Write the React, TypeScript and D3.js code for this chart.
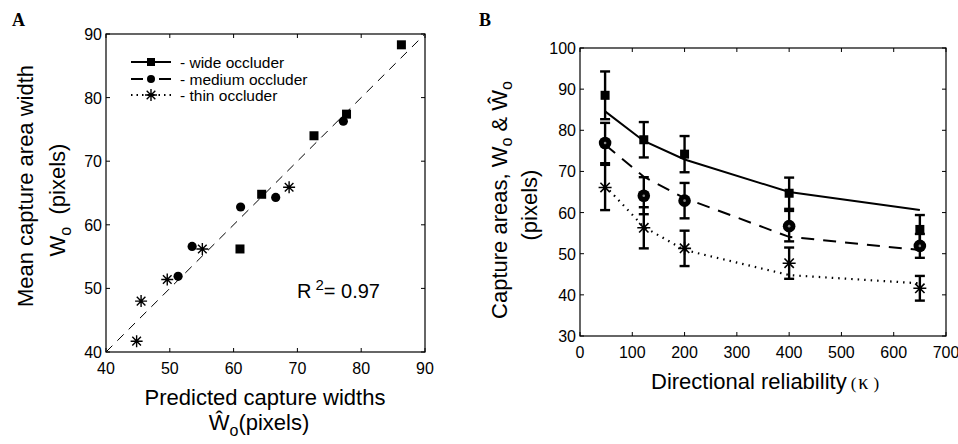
import React from 'react';
import * as d3 from 'd3';

// ---------- Panel A data: predicted (x) vs mean capture width (y)
const predWide = [86.3, 77.7, 72.6, 64.4, 61.0];
const meanWide = [88.3, 77.4, 74.0, 64.8, 56.2];
const predMedium = [77.2, 66.6, 61.1, 53.5, 51.3];
const meanMedium = [76.3, 64.3, 62.8, 56.6, 51.9];
const predThin = [68.7, 55.1, 49.6, 45.5, 44.8];
const meanThin = [65.9, 56.2, 51.4, 48.0, 41.7];
const ticksA = [40, 50, 60, 70, 80, 90];
const diagA = [40, 90];

// ---------- Panel B data: capture areas vs directional reliability
const kappa = [48, 122, 200, 400, 650];
const obsWide = [88.5, 77.7, 74.2, 64.7, 55.9];
const errWide = [5.8, 4.3, 4.4, 3.8, 3.5];
const obsMedium = [76.9, 64.1, 62.9, 56.7, 51.9];
const errMedium = [4.9, 4.5, 4.3, 3.7, 2.9];
const obsThin = [66.1, 56.3, 51.3, 47.7, 41.6];
const errThin = [5.5, 5.0, 4.3, 3.8, 3.0];
const modelWide = [84.6, 77.4, 72.9, 65.0, 60.6];
const modelMedium = [76.5, 68.7, 63.5, 54.1, 50.9];
const modelThin = [66.5, 56.5, 50.9, 44.8, 42.8];
const ticksBx = [0, 100, 200, 300, 400, 500, 600, 700];
const ticksBy = [30, 40, 50, 60, 70, 80, 90, 100];

const legendLabels = ['- wide occluder', '- medium occluder', '- thin occluder'];

const SANS = "'Liberation Sans', Arial, Helvetica, sans-serif";
const SERIF = "'Liberation Serif', 'Times New Roman', serif";

const Square = ({ x, y, s = 9 }: { x: number; y: number; s?: number }) => (
  <rect x={x - s / 2} y={y - s / 2} width={s} height={s} fill="#000" />
);
const Dot = ({ x, y, r = 4.6 }: { x: number; y: number; r?: number }) => (
  <circle cx={x} cy={y} r={r} fill="#000" />
);
const Ring = ({ x, y }: { x: number; y: number }) => (
  <g>
    <circle cx={x} cy={y} r={6.3} fill="#000" />
    <circle cx={x} cy={y} r={1.3} fill="#888" />
  </g>
);
const Star = ({ x, y, r = 6, w = 1.5 }: { x: number; y: number; r?: number; w?: number }) => {
  const d = r * 0.72;
  return (
    <path
      d={`M${x - r},${y}H${x + r}M${x},${y - r}V${y + r}M${x - d},${y - d}L${x + d},${y + d}M${x - d},${y + d}L${x + d},${y - d}`}
      stroke="#000"
      strokeWidth={w}
      fill="none"
    />
  );
};

type Scale = d3.ScaleLinear<number, number>;

const Frame = ({ x, y, xt, yt, fmtY }: { x: Scale; y: Scale; xt: number[]; yt: number[]; fmtY?: boolean }) => {
  const [x0, x1] = x.range();
  const [y0, y1] = y.range(); // y0 bottom, y1 top
  const tl = 4;
  return (
    <g>
      <rect x={x0} y={y1} width={x1 - x0} height={y0 - y1} fill="none" stroke="#000" strokeWidth={1.2} />
      {xt.map((t) => (
        <g key={'x' + t}>
          <line x1={x(t)} x2={x(t)} y1={y0} y2={y0 - tl} stroke="#000" strokeWidth={1} />
          <line x1={x(t)} x2={x(t)} y1={y1} y2={y1 + tl} stroke="#000" strokeWidth={1} />
          <text x={x(t)} y={y0 + 22} textAnchor="middle" fontFamily={SANS} fontSize={16}>
            {t}
          </text>
        </g>
      ))}
      {yt.map((t) => (
        <g key={'y' + t}>
          <line x1={x0} x2={x0 + tl} y1={y(t)} y2={y(t)} stroke="#000" strokeWidth={1} />
          <line x1={x1} x2={x1 - tl} y1={y(t)} y2={y(t)} stroke="#000" strokeWidth={1} />
          <text x={x0 - 4} y={y(t) + 6} textAnchor="end" fontFamily={SANS} fontSize={16}>
            {t}
          </text>
        </g>
      ))}
    </g>
  );
};

export default function App() {
  // Panel A scales
  const xA = d3.scaleLinear().domain([40, 90]).range([106, 425]);
  const yA = d3.scaleLinear().domain([40, 90]).range([352, 34]);
  // Panel B scales
  const xB = d3.scaleLinear().domain([0, 700]).range([580, 946]);
  const yB = d3.scaleLinear().domain([30, 100]).range([336, 48]);

  const lineB = (vals: number[]) =>
    d3.line<number>().x((_, i) => xB(kappa[i])).y((v) => yB(v))(vals) as string;

  const errBars = (obs: number[], err: number[], key: string) =>
    obs.map((v, i) => {
      const cx = xB(kappa[i]);
      const top = yB(v + err[i]);
      const bot = yB(v - err[i]);
      return (
        <g key={key + i} stroke="#000" strokeWidth={2.4}>
          <line x1={cx} x2={cx} y1={top} y2={bot} />
          <line x1={cx - 5} x2={cx + 5} y1={top} y2={top} />
          <line x1={cx - 5} x2={cx + 5} y1={bot} y2={bot} />
        </g>
      );
    });

  const legY = [62, 79, 95];

  return (
    <svg
      width={958}
      height={444}
      viewBox="0 0 958 444"
      style={{ position: 'absolute', left: 0, top: 0, background: '#fff' }}
    >
      <rect x={0} y={0} width={958} height={444} fill="#fff" />

      {/* ---------------- Panel A ---------------- */}
      <text x={12} y={26} fontFamily={SERIF} fontWeight="bold" fontSize={18}>
        A
      </text>
      <Frame x={xA} y={yA} xt={ticksA} yt={ticksA} />
      <line
        x1={xA(diagA[0])}
        y1={yA(diagA[0])}
        x2={xA(diagA[1])}
        y2={yA(diagA[1])}
        stroke="#000"
        strokeWidth={1}
        strokeDasharray="9,7"
      />
      {predWide.map((p, i) => (
        <Square key={'aw' + i} x={xA(p)} y={yA(meanWide[i])} s={9} />
      ))}
      {predMedium.map((p, i) => (
        <Dot key={'am' + i} x={xA(p)} y={yA(meanMedium[i])} r={4.6} />
      ))}
      {predThin.map((p, i) => (
        <Star key={'at' + i} x={xA(p)} y={yA(meanThin[i])} r={6} w={1.4} />
      ))}

      {/* legend */}
      <g>
        <line x1={131} x2={171} y1={legY[0]} y2={legY[0]} stroke="#000" strokeWidth={2} />
        <Square x={151} y={legY[0]} s={8} />
        <line x1={131} x2={143} y1={legY[1]} y2={legY[1]} stroke="#000" strokeWidth={2} />
        <line x1={159} x2={171} y1={legY[1]} y2={legY[1]} stroke="#000" strokeWidth={2} />
        <Dot x={151} y={legY[1]} r={4} />
        <line
          x1={131}
          x2={171}
          y1={legY[2]}
          y2={legY[2]}
          stroke="#000"
          strokeWidth={2}
          strokeDasharray="1.5,4"
        />
        <Star x={151} y={legY[2]} r={6} w={1.4} />
        {legendLabels.map((l, i) => (
          <text key={l} x={180} y={legY[i] + 5.5} fontFamily={SANS} fontSize={15.5}>
            {l}
          </text>
        ))}
      </g>

      <text x={297} y={298} fontFamily={SANS} fontSize={20}>
        R<tspan dx={4} dy={-8} fontSize={15}>2</tspan>
        <tspan dy={8}>= 0.97</tspan>
      </text>

      {/* axis titles A */}
      <text x={265} y={405} textAnchor="middle" fontFamily={SANS} fontSize={22}>
        Predicted capture widths
      </text>
      <text x={259} y={430} textAnchor="middle" fontFamily={SANS} fontSize={22}>
        Ŵ<tspan fontSize={16} dy={6}>o</tspan>
        <tspan dy={-6}>(pixels)</tspan>
      </text>
      <text
        transform="translate(33,186) rotate(-90)"
        textAnchor="middle"
        fontFamily={SANS}
        fontSize={22}
      >
        Mean capture area width
      </text>
      <text
        transform="translate(65,200) rotate(-90)"
        textAnchor="middle"
        fontFamily={SANS}
        fontSize={22}
      >
        W<tspan fontSize={16} dy={6}>o</tspan>
        <tspan dy={-6}>{'\u00a0 (pixels)'}</tspan>
      </text>

      {/* ---------------- Panel B ---------------- */}
      <text x={479} y={26} fontFamily={SERIF} fontWeight="bold" fontSize={18}>
        B
      </text>
      <Frame x={xB} y={yB} xt={ticksBx} yt={ticksBy} />

      <path d={lineB(modelWide)} fill="none" stroke="#000" strokeWidth={2} />
      <path d={lineB(modelMedium)} fill="none" stroke="#000" strokeWidth={2} strokeDasharray="13,9" />
      <path
        d={lineB(modelThin)}
        fill="none"
        stroke="#000"
        strokeWidth={2.2}
        strokeDasharray="1.5,5"
      />

      {errBars(obsWide, errWide, 'ew')}
      {errBars(obsMedium, errMedium, 'em')}
      {errBars(obsThin, errThin, 'et')}

      {obsWide.map((v, i) => (
        <Square key={'bw' + i} x={xB(kappa[i])} y={yB(v)} s={9} />
      ))}
      {obsMedium.map((v, i) => (
        <Ring key={'bm' + i} x={xB(kappa[i])} y={yB(v)} />
      ))}
      {obsThin.map((v, i) => (
        <Star key={'bt' + i} x={xB(kappa[i])} y={yB(v)} r={6.5} w={1.6} />
      ))}

      {/* axis titles B */}
      <text x={651} y={389} fontFamily={SANS} fontSize={22}>
        Directional reliability
        <tspan fontFamily={SERIF} fontSize={17} dx={4}>(</tspan>
        <tspan fontFamily={SERIF} fontSize={20} dx={2}>κ</tspan>
        <tspan fontFamily={SERIF} fontSize={17} dx={5}>)</tspan>
      </text>
      <text
        transform="translate(507,200) rotate(-90)"
        textAnchor="middle"
        fontFamily={SANS}
        fontSize={22}
      >
        Capture areas, W<tspan fontSize={16} dy={5}>o</tspan>
        <tspan dy={-5}> &amp; Ŵ</tspan>
        <tspan fontSize={16} dy={5}>o</tspan>
      </text>
      <text
        transform="translate(537,205) rotate(-90)"
        textAnchor="middle"
        fontFamily={SANS}
        fontSize={22}
      >
        (pixels)
      </text>
    </svg>
  );
}
